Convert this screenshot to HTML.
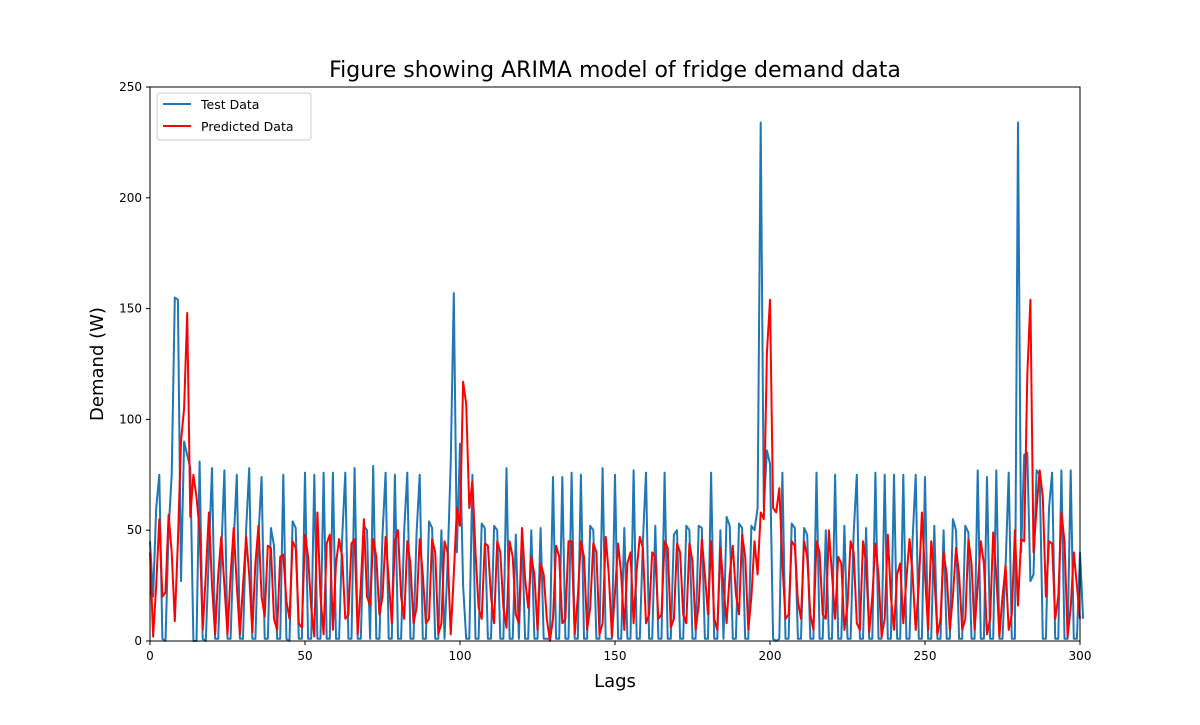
<!DOCTYPE html>
<html><head><meta charset="utf-8"><style>
body{margin:0;background:#fff;font-family:"DejaVu Sans","Liberation Sans",sans-serif}
</style></head><body>
<svg id="chart" width="1200" height="721" xmlns="http://www.w3.org/2000/svg" font-family="DejaVu Sans, Liberation Sans, sans-serif">
<rect width="1200" height="721" fill="#fff"/>
<text x="615" y="77" text-anchor="middle" font-size="22">Figure showing ARIMA model of fridge demand data</text>
<g id="plot"></g>
<rect x="150" y="87" width="930" height="554" fill="none" stroke="#000" stroke-width="1"/>
<g id="ticks"></g>
<text x="615" y="687" text-anchor="middle" font-size="18">Lags</text>
<text transform="translate(103,364) rotate(-90)" text-anchor="middle" font-size="18">Demand (W)</text>
<g>
<rect x="157" y="93" width="154" height="47" rx="3" fill="#fff" fill-opacity="0.8" stroke="#ccc"/>
<line x1="163" y1="104" x2="191" y2="104" stroke="#1f77b4" stroke-width="2"/>
<text x="201" y="109" font-size="12.5">Test Data</text>
<line x1="163" y1="126" x2="191" y2="126" stroke="#ff0000" stroke-width="2"/>
<text x="201" y="131" font-size="12.5">Predicted Data</text>
</g>
</svg>
<script>
const xTicks=[0,50,100,150,200,250,300];
const yTicks=[0,50,100,150,200,250];
const testData=[45,20,60,75,1,0,50,75,155,154,27,90,84,78,0,0,81,1,0,40,
78,1,1,40,77,1,1,45,75,1,1,50,78,1,1,48,74,1,1,51,
43,1,1,75,1,0,54,51,1,1,76,1,1,75,1,1,76,1,1,76,
1,1,47,76,1,1,78,1,1,52,50,1,79,1,1,48,76,1,1,75,
1,1,50,76,1,1,49,75,1,1,54,51,1,1,50,1,35,80,157,40,
89,25,1,1,75,1,1,53,51,1,1,52,50,1,1,78,1,1,48,1,
48,1,1,50,1,1,51,1,1,1,74,1,1,74,1,1,76,1,1,75,
1,1,52,50,1,1,78,1,1,1,75,1,1,51,1,1,77,1,1,45,
76,1,1,52,1,1,76,1,1,48,50,1,1,52,50,1,1,52,51,1,
1,76,1,1,50,1,56,52,1,1,53,51,1,1,52,50,60,234,60,86,
80,1,0,1,76,1,1,53,51,1,1,51,48,1,1,76,1,1,50,1,
1,75,1,1,52,1,1,49,75,1,1,51,1,1,76,1,1,75,1,1,
75,1,1,75,1,1,46,75,1,1,74,1,1,52,1,1,50,1,1,55,
50,1,1,52,49,1,1,77,1,1,74,1,1,77,1,1,34,76,1,1,
234,40,84,85,27,30,77,75,1,1,60,76,1,1,77,1,1,77,1,1,40,10];
const predData=[40,2,25,55,20,22,57,40,9,45,90,105,148,56,75,65,50,5,30,58,
25,3,30,47,25,3,30,51,25,3,25,47,30,4,35,52,20,11,43,42,
10,5,38,39,18,10,45,42,8,6,48,38,15,2,58,20,3,44,48,5,
35,46,38,10,12,44,46,3,25,55,20,16,46,38,12,20,47,28,8,45,
50,20,10,45,35,8,15,46,30,8,10,46,40,3,8,45,40,3,30,60,
52,117,107,60,72,40,15,10,44,43,20,8,45,40,15,6,45,38,12,8,
51,28,15,38,30,5,35,30,10,0,10,43,38,8,10,45,45,3,20,45,
38,5,15,44,40,3,8,47,30,2,22,44,30,5,35,40,8,32,47,42,
8,12,40,38,10,12,45,42,6,10,44,40,12,8,44,36,5,16,46,30,
12,45,10,5,42,25,8,30,43,21,12,48,38,5,20,45,30,58,55,130,
154,60,58,69,35,10,12,45,43,18,10,45,38,12,5,45,40,12,10,50,
30,10,38,35,5,16,45,40,8,5,45,35,4,20,44,30,2,10,48,20,
5,30,35,8,28,46,30,5,25,58,30,5,45,30,3,10,40,30,5,20,
42,30,5,10,46,35,5,25,45,35,3,10,49,30,2,20,34,5,12,50,
16,46,45,120,154,40,60,77,65,20,45,44,10,20,58,45,2,15,40,25,10];
const X=v=>150+v*3.1, Y=v=>641-v*2.216;
const NS='http://www.w3.org/2000/svg';
const plot=document.getElementById('plot'), ticks=document.getElementById('ticks');
function series(arr,color,name){
  const p=document.createElementNS(NS,'polyline');
  p.setAttribute('points',arr.map((v,i)=>X(i)+','+Y(v)).join(' '));
  p.setAttribute('fill','none');p.setAttribute('stroke',color);p.setAttribute('stroke-width','2');
  p.setAttribute('stroke-linejoin','round');
  
  
  plot.appendChild(p);
}
series(testData,'#1f77b4','test-data-line');
series(predData,'#ff0000','predicted-data-line');
xTicks.forEach(t=>{
  const l=document.createElementNS(NS,'line');
  l.setAttribute('x1',X(t));l.setAttribute('x2',X(t));l.setAttribute('y1',641);l.setAttribute('y2',645);l.setAttribute('stroke','#000');
  
  
  ticks.appendChild(l);
  const tx=document.createElementNS(NS,'text');
  tx.setAttribute('x',X(t));tx.setAttribute('y',660);tx.setAttribute('text-anchor','middle');tx.setAttribute('font-size','12');
  tx.textContent=t;
  
  
  ticks.appendChild(tx);
});
yTicks.forEach(t=>{
  const l=document.createElementNS(NS,'line');
  l.setAttribute('x1',146);l.setAttribute('x2',150);l.setAttribute('y1',Y(t));l.setAttribute('y2',Y(t));l.setAttribute('stroke','#000');
  
  
  ticks.appendChild(l);
  const tx=document.createElementNS(NS,'text');
  tx.setAttribute('x',142);tx.setAttribute('y',Y(t)+4);tx.setAttribute('text-anchor','end');tx.setAttribute('font-size','12');
  tx.textContent=t;
  
  
  ticks.appendChild(tx);
});
</script>
</body></html>
